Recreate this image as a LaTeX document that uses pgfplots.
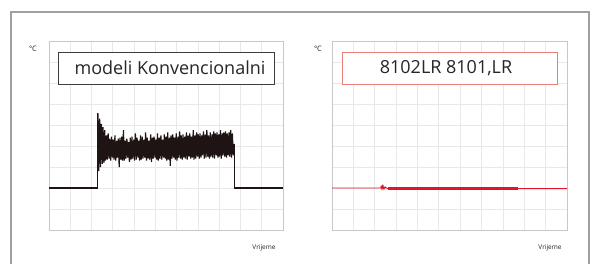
\documentclass[border=0pt]{standalone}
\usepackage{pgfplots}
\pgfplotsset{compat=1.18}
\usepackage{pgfplotstable}
\usepackage{fontspec}
\setmainfont{Open Sans}
\definecolor{gridc}{RGB}{232,232,232}
\definecolor{framec}{RGB}{200,200,200}
\definecolor{outer}{RGB}{160,160,160}
\definecolor{redc}{RGB}{226,20,44}
\definecolor{boxred}{RGB}{232,130,120}
\definecolor{boxdark}{RGB}{60,60,60}
\definecolor{linec}{RGB}{30,20,20}
\pgfplotstableread{
y
5.55
2.80
5.30
3.00
5.05
3.15
4.90
3.20
4.75
3.30
4.50
3.35
4.60
3.40
4.35
3.30
4.45
3.45
4.30
3.35
4.50
3.30
4.25
3.45
4.35
3.00
4.40
3.35
4.45
3.30
4.75
3.30
4.25
3.40
4.35
3.45
4.20
3.25
4.40
3.35
4.45
3.40
4.30
3.30
4.60
3.35
4.40
3.45
4.25
3.30
4.50
3.35
4.45
3.40
4.30
3.45
4.65
3.30
4.40
3.40
4.25
3.35
4.55
3.25
4.40
3.40
4.45
3.45
4.30
3.35
4.60
3.30
4.40
3.40
4.50
3.35
4.30
3.45
4.55
3.40
4.45
3.30
4.65
3.35
4.40
3.05
4.50
3.40
4.55
3.45
4.40
3.35
4.60
3.30
4.45
3.45
4.70
3.40
4.50
3.35
4.55
3.45
4.45
3.40
4.65
3.35
4.50
3.50
4.60
3.40
4.45
3.45
4.75
3.35
4.50
3.40
4.65
3.50
4.55
3.40
4.60
3.45
4.50
3.55
4.70
3.40
4.55
3.45
4.75
3.50
4.50
3.40
4.65
3.50
4.55
3.45
4.70
3.40
4.60
3.55
4.65
3.45
4.55
3.50
4.75
3.40
4.60
3.55
4.65
3.50
4.70
3.45
4.60
3.55
4.65
3.50
4.75
3.45
4.60
3.55
4.10
}\noisedata
\pgfplotsset{
  panel/.style={
    scale only axis, width=234pt, height=189pt,
    xmin=0, xmax=11, ymin=0, ymax=9,
    xtick={0,...,11}, ytick={0,...,9},
    xticklabels={}, yticklabels={},
    major tick length=0pt,
    grid=major, grid style={gridc, line width=0.8pt},
    axis line style={framec, line width=0.8pt},
    anchor=south west,
  }
}
\begin{document}
\begin{tikzpicture}[x=1pt,y=1pt]
\useasboundingbox (0,0) rectangle (591,264);
\draw[outer, line width=1.3pt] (11,0) -- (11,252) -- (589,252) -- (589,0);
% left panel
\begin{axis}[panel, at={(49pt,34pt)}]
\addplot[linec, line width=1.1pt] coordinates {(0,2) (2.30,2) (2.30,5.55)};
\addplot[linec, line width=1.2pt] table[x expr=2.30+\coordindex*0.04, y=y] {\noisedata};
\addplot[linec, line width=1.1pt] coordinates {(8.70,4.10) (8.70,2) (11,2)};
\end{axis}
% right panel
\begin{axis}[panel, at={(332pt,34pt)}, width=235pt]
\addplot[redc, line width=0.8pt] coordinates {(0,2.0) (2.28,2.0) (2.30,2.08) (2.33,1.96) (2.36,2.10) (2.39,1.95) (2.42,2.08) (2.45,1.97) (2.50,2.05) (2.55,2.00) (2.60,1.97) (8.70,1.97) (11,1.97)};
\addplot[redc, line width=3.4pt] coordinates {(2.62,1.97) (8.70,1.97)};
\end{axis}
% labels
\node[font=\fontsize{7.5}{8}\selectfont, text=black!85] at (33,215) {°C};
\node[font=\fontsize{7.5}{8}\selectfont, text=black!85] at (318,215) {°C};
\node[font=\fontsize{6.5}{7}\selectfont, text=black!85] at (264,16) {Vrijeme};
\node[font=\fontsize{6.5}{7}\selectfont, text=black!85] at (550,16) {Vrijeme};
\draw[boxdark, line width=0.8pt, fill=white] (58,180) rectangle (274,212);
\node[font=\fontsize{18}{20}\selectfont, text=black!85] at (170,196) {modeli Konvencionalni};
\draw[boxred, line width=0.8pt, fill=white] (342,180) rectangle (557,212);
\node[font=\fontsize{18}{20}\selectfont, text=black!85] at (446,196) {8102LR 8101,LR};
\end{tikzpicture}
\end{document}
